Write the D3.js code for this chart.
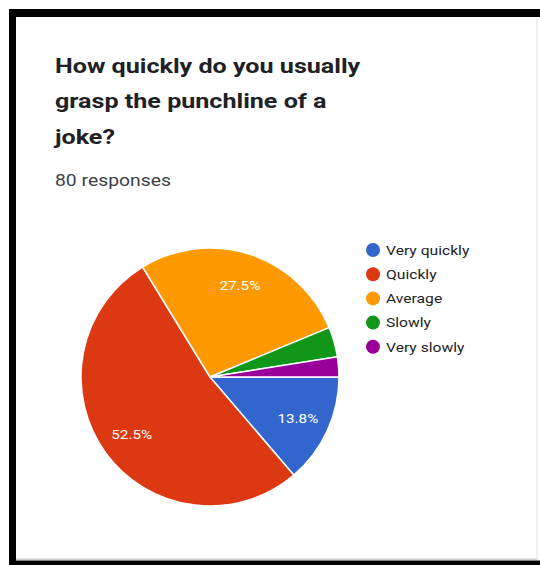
<!DOCTYPE html>
<html><head><meta charset="utf-8">
<script src="https://cdn.jsdelivr.net/npm/d3@7"></script>
<style>html,body{margin:0;padding:0;background:#fff;}svg{display:block;}</style>
</head><body>
<svg id="chart" width="540" height="565"></svg>
<script>
const categories = ["Very quickly", "Quickly", "Average", "Slowly", "Very slowly"];
const counts = [11, 42, 22, 3, 2];
const colors = ["#3366cc", "#dc3912", "#ff9900", "#109618", "#990099"];
const titleLines = ["How quickly do you usually", "grasp the punchline of a", "joke?"];
const subtitle = "80 responses";

const svg = d3.select("#chart");
const total = d3.sum(counts);
const data = categories.map((c, i) => ({name: c, value: counts[i], color: colors[i]}));
const SX = 1.225; // horizontal text stretch seen in the reference

// frame
svg.append("rect").attr("x", 0).attr("y", 0).attr("width", 540).attr("height", 565).attr("fill", "#fff");
svg.append("rect").attr("x", 536.5).attr("y", 17).attr("width", 1).attr("height", 543).attr("fill", "#e4e4e4");
svg.append("rect").attr("x", 16).attr("y", 558.5).attr("width", 521).attr("height", 1.5).attr("fill", "#cfcfcf");
svg.append("rect").attr("x", 9).attr("y", 9).attr("width", 531).attr("height", 8).attr("fill", "#000");
svg.append("rect").attr("x", 9).attr("y", 9).attr("width", 7).attr("height", 556).attr("fill", "#000");
svg.append("rect").attr("x", 9).attr("y", 560.5).attr("width", 531).attr("height", 5).attr("fill", "#000");

// title
svg.append("g").selectAll("text").data(titleLines).join("text")
  .attr("transform", (d, i) => `translate(55,${72.5 + i * 35.5}) scale(${SX},1)`)
  .attr("font-family", "Roboto, sans-serif").attr("font-weight", 700)
  .attr("font-size", 20.5).attr("fill", "#202124").text(d => d);
svg.append("text").attr("transform", `translate(55,186) scale(1.21,1)`)
  .attr("font-family", "Roboto, sans-serif").attr("font-size", 16)
  .attr("fill", "#3c4043").text(subtitle);

// pie
const cx = 210, cy = 377, r = 129;
const pie = d3.pie().value(d => d.value).sort(null)
  .startAngle(Math.PI / 2).endAngle(Math.PI / 2 + 2 * Math.PI);
const arcs = pie(data);
const arc = d3.arc().innerRadius(0).outerRadius(r);
const labelArc = d3.arc().innerRadius(r * 0.75).outerRadius(r * 0.75);
const g = svg.append("g").attr("transform", `translate(${cx},${cy})`);
g.selectAll("path").data(arcs).join("path")
  .attr("d", arc).attr("fill", d => d.data.color)
  .attr("stroke", "#fff").attr("stroke-width", 1.5);
g.selectAll("text").data(arcs.filter(d => d.data.value / total > 0.05)).join("text")
  .attr("transform", d => { const c = labelArc.centroid(d); return `translate(${c[0]},${c[1] + 1}) scale(1.22,1)`; })
  .attr("text-anchor", "middle").attr("dy", "0.35em")
  .attr("font-family", "Roboto, sans-serif").attr("font-size", 12.5)
  .attr("fill", "#fff")
  .text(d => (Math.round(d.data.value / total * 1000) / 10).toFixed(1) + "%");

// legend
const lg = svg.append("g").attr("transform", "translate(373,250)");
const rows = lg.selectAll("g").data(data).join("g")
  .attr("transform", (d, i) => `translate(0,${i * 24.2})`);
rows.append("circle").attr("r", 7).attr("fill", d => d.color);
rows.append("text").attr("transform", "translate(13,0) scale(1.16,1)").attr("dy", "0.35em")
  .attr("font-family", "Roboto, sans-serif").attr("font-size", 13.5)
  .attr("fill", "#222").text(d => d.name);
</script>
</body></html>
